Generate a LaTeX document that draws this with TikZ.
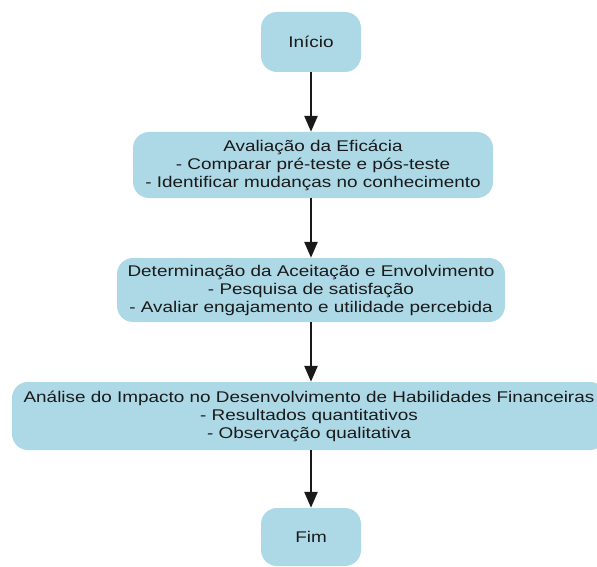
\documentclass[tikz,border=0pt]{standalone}
\usepackage{fontspec}
\setmainfont{Liberation Sans}[FakeStretch=1.22]
\usetikzlibrary{arrows.meta}
\definecolor{boxblue}{HTML}{ADD8E6}
\definecolor{txt}{HTML}{1A1A1A}
\begin{document}
\begin{tikzpicture}[x=1pt,y=1pt,
  box/.style={draw=none,fill=boxblue,rounded corners=16pt,align=center,text=txt,
    font=\fontsize{15.5}{18}\selectfont,inner sep=0pt},
  flow/.style={line width=2.6pt,draw=black!90,-{Triangle[length=16pt,width=13pt]}}]
\useasboundingbox (0,0) rectangle (597,-567);
\clip (0,0) rectangle (597,-567);
\node[box,minimum width=100pt,minimum height=60pt] (start) at (311,-42) {Início};
\node[box,minimum width=360pt,minimum height=66pt] (a) at (313,-165) {Avaliação da Eficácia\\- Comparar pré-teste e pós-teste\\- Identificar mudanças no conhecimento};
\node[box,minimum width=388pt,minimum height=64pt] (b) at (311,-290) {Determinação da Aceitação e Envolvimento\\- Pesquisa de satisfação\\- Avaliar engajamento e utilidade percebida};
\node[box,minimum width=594pt,minimum height=68pt] (c) at (309,-416) {Análise do Impacto no Desenvolvimento de Habilidades Financeiras\\- Resultados quantitativos\\- Observação qualitativa};
\node[box,minimum width=100pt,minimum height=58pt] (end) at (311,-537) {Fim};
\draw[flow] (start.south) -- (start.south |- a.north);
\draw[flow] (start.south |- a.south) -- (start.south |- b.north);
\draw[flow] (start.south |- b.south) -- (start.south |- c.north);
\draw[flow] (start.south |- c.south) -- (end.north);
\end{tikzpicture}
\end{document}
